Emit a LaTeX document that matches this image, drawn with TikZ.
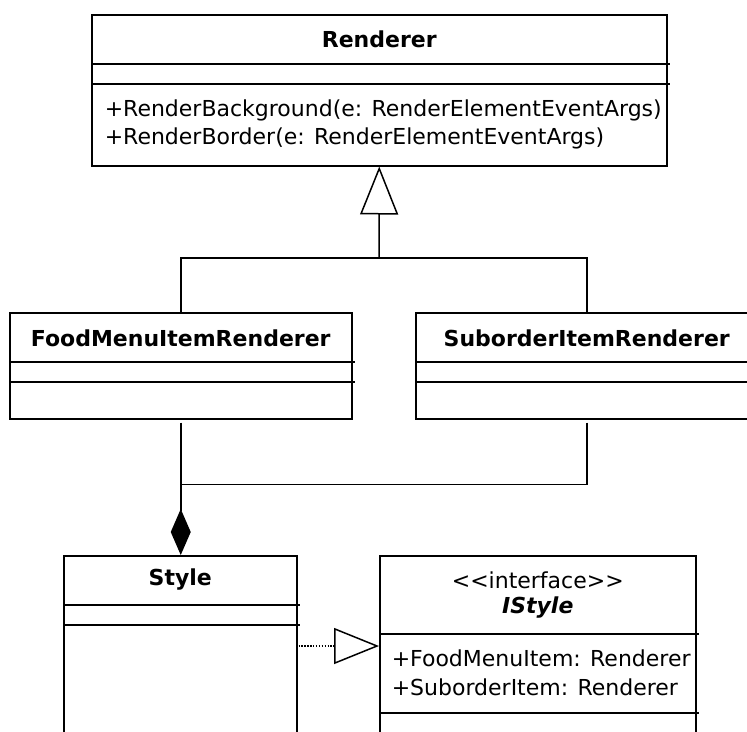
\documentclass[tikz,border=0pt]{standalone}
\usepackage{fontspec}
\setmainfont{DejaVu Sans}
\usetikzlibrary{calc,arrows.meta}

\begin{document}
\begin{tikzpicture}[
    x=1pt, y=-1pt,
    line width=1.5pt,
    cls/.style={draw, rectangle, anchor=north west, inner sep=0pt, line width=1.5pt},
    cname/.style={font=\fontsize{22}{26}\selectfont\bfseries, inner sep=0pt},
    stereo/.style={font=\fontsize{22}{26}\selectfont, inner sep=0pt},
    mtxt/.style={font=\fontsize{22}{26}\selectfont, anchor=west, inner sep=0pt},
    gen/.style={-{Triangle[open, length=48pt, width=38pt]}},
    comp/.style={-{Diamond[length=46pt, width=20pt]}},
    real/.style={dash pattern=on 1.4pt off 1.5pt, -{Triangle[open, length=45pt, width=36pt]}},
]
\clip (0,0) rectangle (747,731);

% base class
\node[cls, minimum width=575pt, minimum height=151pt] (rend) at (91,14) {};
\draw ($(rend.north west)+(0,50)$) -- ($(rend.north east)+(2,50)$);
\draw ($(rend.north west)+(0,70)$) -- ($(rend.north east)+(2,70)$);
\node[cname] (rendName) at ($(rend.north)+(0,25)$) {Renderer};
\node[mtxt] (rendOp1) at ($(rend.north west)+(13,96)$) {+RenderBackground(e: RenderElementEventArgs)};
\node[mtxt] (rendOp2) at ($(rend.north west)+(13,124)$) {+RenderBorder(e: RenderElementEventArgs)};

% subclasses
\node[cls, minimum width=342pt, minimum height=106pt] (food) at (9,312) {};
\draw ($(food.north west)+(0,50)$) -- ($(food.north east)+(2,50)$);
\draw ($(food.north west)+(0,70)$) -- ($(food.north east)+(2,70)$);
\node[cname] (foodName) at ($(food.north)+(0,26)$) {FoodMenuItemRenderer};

\node[cls, minimum width=342pt, minimum height=106pt] (sub) at (415,312) {};
\draw ($(sub.north west)+(0,50)$) -- ($(sub.north east)+(2,50)$);
\draw ($(sub.north west)+(0,70)$) -- ($(sub.north east)+(2,70)$);
\node[cname] (subName) at ($(sub.north)+(0,26)$) {SuborderItemRenderer};

% style and its interface
\node[cls, minimum width=233pt, minimum height=200pt] (style) at (63,555) {};
\draw ($(style.north west)+(0,50)$) -- ($(style.north east)+(2,50)$);
\draw ($(style.north west)+(0,70)$) -- ($(style.north east)+(2,70)$);
\node[cname] (styleName) at ($(style.north)+(0,25)$) {Style};

\node[cls, minimum width=316pt, minimum height=200pt] (istyle) at (379,555) {};
\draw ($(istyle.north west)+(0,79)$) -- ($(istyle.north east)+(2,79)$);
\draw ($(istyle.north west)+(0,158)$) -- ($(istyle.north east)+(2,158)$);
\node[stereo] (istyleSt) at ($(istyle.north)+(0,25)$) {<\kern0pt<interface>\kern0pt>};
\node[cname, font=\fontsize{22}{26}\selectfont\bfseries\itshape] (istyleName) at ($(istyle.north)+(0,53)$) {IStyle};
\node[mtxt] (istyleAt1) at ($(istyle.north west)+(12,103)$) {+FoodMenuItem: Renderer};
\node[mtxt] (istyleAt2) at ($(istyle.north west)+(12,132)$) {+SuborderItem: Renderer};

% inheritance
\coordinate (top) at (379,258);
\draw (food.north) |- (top) -| (sub.north);
\draw[gen] (top) -- (rend.south);

% composition
\draw ([yshift=-3pt]sub.south) |- ($(food.south)+(0,65)$);
\draw[comp] ([yshift=-3pt]food.south) -- (food.south |- style.north);

% realization
\coordinate (impl) at ($(style.north east)+(1,91)$);
\draw[real] (impl) -- (impl -| istyle.west);
\end{tikzpicture}
\end{document}
